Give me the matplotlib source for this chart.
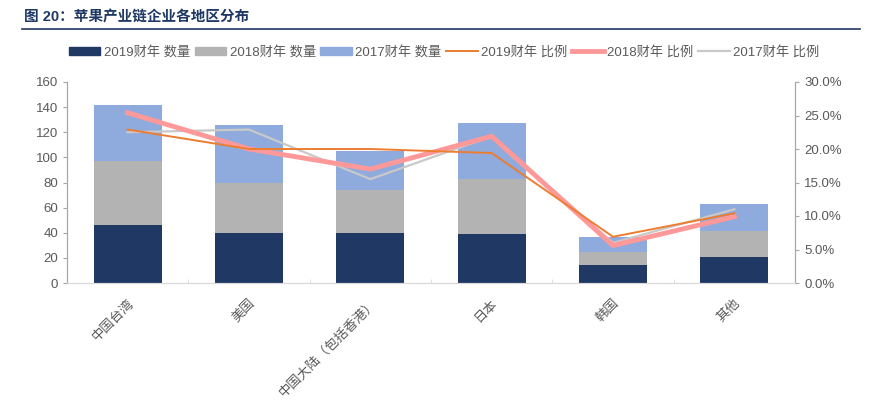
import numpy as np
import matplotlib.pyplot as plt
from matplotlib.patches import Patch
from matplotlib.lines import Line2D
from matplotlib.ticker import FuncFormatter

plt.rcParams['font.family'] = ['Liberation Sans', 'Noto Sans CJK SC', 'DejaVu Sans']

regions = ["中国台湾", "美国", "中国大陆（包括香港）", "日本", "韩国", "其他"]
count_2019 = [46, 40, 40, 39, 14, 21]
count_2018 = [51, 40, 34, 44, 11, 20]
count_2017 = [45, 46, 31, 44, 12, 22]
ratio_2019 = [22.9, 20.0, 20.0, 19.4, 6.9, 10.4]
ratio_2018 = [25.4, 20.0, 17.0, 21.9, 5.6, 9.9]
ratio_2017 = [22.5, 22.9, 15.5, 21.9, 6.0, 11.0]

c19, c18, c17 = "#1F3864", "#B3B3B3", "#8FAADC"
l19, l18, l17 = "#ED7D31", "#FF9999", "#C9C9C9"
tick_col = "#595959"

fig = plt.figure(figsize=(8.72, 4.04), dpi=100)
ax = fig.add_axes([67 / 872, 1 - 283 / 404, (795 - 67) / 872, (283 - 82) / 404])

x = np.arange(len(regions))
w = 0.56
b1 = np.array(count_2019)
b2 = b1 + np.array(count_2018)
ax.bar(x, count_2019, w, color=c19, zorder=2)
ax.bar(x, count_2018, w, bottom=b1, color=c18, zorder=2)
ax.bar(x, count_2017, w, bottom=b2, color=c17, zorder=2)

ax.set_xlim(-0.5, len(regions) - 0.5)
ax.set_ylim(0, 160)
ax.set_yticks(range(0, 161, 20))

ax2 = ax.twinx()
ax2.plot(x, ratio_2017, color=l17, lw=1.6, zorder=3)
ax2.plot(x, ratio_2018, color=l18, lw=3.5, zorder=4)
ax2.plot(x, ratio_2019, color=l19, lw=1.4, zorder=5)
ax2.set_ylim(0, 30)
ax2.set_yticks(np.arange(0, 31, 5))
ax2.yaxis.set_major_formatter(FuncFormatter(lambda v, p: f"{v:.1f}%"))

for a in (ax, ax2):
    a.spines['top'].set_visible(False)
    a.spines['left'].set_color("#A6A6A6")
    a.spines['right'].set_color("#A6A6A6")
    a.spines['bottom'].set_color("#D9D9D9")
    a.tick_params(axis='y', colors="#A6A6A6", labelcolor=tick_col, labelsize=9.5, length=3)

ax.set_xticks(x)
ax.set_xticklabels(regions, rotation=45, ha='right', rotation_mode='anchor',
                   color=tick_col, fontsize=9.5)
ax.tick_params(axis='x', length=0, pad=10)
ax.set_xticks(np.arange(0.5, len(regions) - 0.5, 1), minor=True)
ax.tick_params(axis='x', which='minor', direction='in', length=3, color="#D9D9D9")

handles = [
    Patch(color=c19, label="2019财年 数量"),
    Patch(color=c18, label="2018财年 数量"),
    Patch(color=c17, label="2017财年 数量"),
    Line2D([], [], color=l19, lw=1.4, label="2019财年 比例"),
    Line2D([], [], color=l18, lw=3.5, label="2018财年 比例"),
    Line2D([], [], color=l17, lw=1.6, label="2017财年 比例"),
]
fig.legend(handles=handles, loc='center', bbox_to_anchor=(444 / 872, 1 - 52 / 404),
           ncol=6, frameon=False, fontsize=9.5, handlelength=2.4, handleheight=0.55,
           columnspacing=0.35, handletextpad=0.25, labelcolor=tick_col)

fig.text(24 / 872, 1 - 17 / 404, "图 20：苹果产业链企业各地区分布", fontsize=10.5,
         fontweight='bold', color="#1F3864", va='center', ha='left')
fig.add_artist(Line2D([22 / 872, 860 / 872], [1 - 29 / 404, 1 - 29 / 404],
                      color="#1F3864", lw=1.2))

fig.savefig("out.png", dpi=100)
